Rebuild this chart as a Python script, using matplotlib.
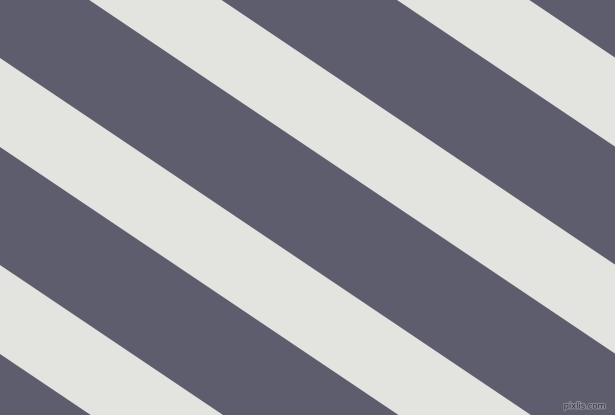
import numpy as np
import matplotlib
matplotlib.use("Agg")
import matplotlib.pyplot as plt
import matplotlib.patheffects as pe

# 画像サイズ (px)
W, H = 615, 415
# 縞の傾き (下向き右)
SLOPE = 0.6725
# 明るい縞の左端での上端/下端 (y切片, px)
stripe_top = [-356, -149, 58, 265]
stripe_bottom = [-267, -60, 147, 354]

DARK = "#5e5d6d"
LIGHT = "#e3e4df"

fig = plt.figure(figsize=(W / 100, H / 100), dpi=100)
ax = fig.add_axes([0, 0, 1, 1])
ax.set_facecolor(DARK)

x = np.array([0, W])
for a, b in zip(stripe_top, stripe_bottom):
    ax.fill_between(x, SLOPE * x + a, SLOPE * x + b, color=LIGHT, linewidth=0)

ax.set_xlim(0, W)
ax.set_ylim(H, 0)
ax.axis("off")

# ウォーターマーク
ax.text(606, 406, "pixlis.com", fontsize=6, color="#30303c",
        ha="right", va="center",
        path_effects=[pe.withStroke(linewidth=1.5, foreground="#8a8a96")])

fig.savefig("out.png", dpi=100, facecolor=DARK)
